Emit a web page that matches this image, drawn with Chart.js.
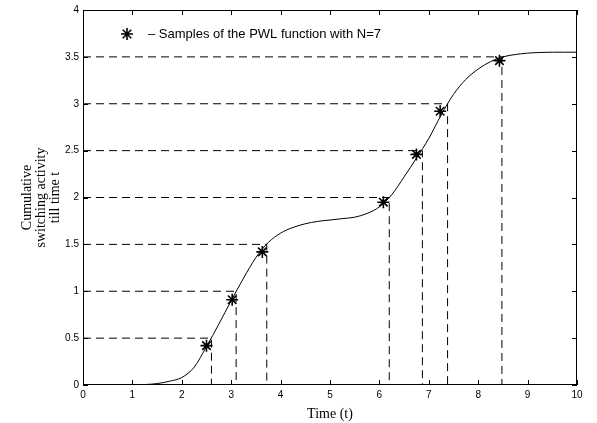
<!DOCTYPE html>
<html>
<head>
<meta charset="utf-8">
<script src="https://cdn.jsdelivr.net/npm/chart.js@4/dist/chart.umd.min.js"></script>
<style>
  html, body { margin: 0; padding: 0; background: #fff; }
  #wrap { width: 597px; height: 423px; }
</style>
</head>
<body>
<div id="wrap"><canvas id="c" width="597" height="423"></canvas></div>
<script>
// cumulative switching activity curve
const curveX = [0, 0.25, 0.5, 0.75, 1, 1.25, 1.5, 1.75, 2, 2.25, 2.5, 2.75, 3, 3.25, 3.5, 3.75, 4, 4.25, 4.5, 4.75, 5, 5.25, 5.5, 5.75, 6, 6.25, 6.5, 6.75, 7, 7.25, 7.5, 7.75, 8, 8.25, 8.5, 8.75, 9, 9.25, 9.5, 9.75, 10];
const curveY = [0, 0, 0, 0, 0, 0.005, 0.015, 0.04, 0.08, 0.19, 0.41, 0.65, 0.9, 1.14, 1.36, 1.52, 1.62, 1.68, 1.72, 1.745, 1.76, 1.775, 1.79, 1.83, 1.9, 2.03, 2.22, 2.42, 2.63, 2.88, 3.1, 3.26, 3.37, 3.45, 3.5, 3.525, 3.54, 3.547, 3.55, 3.55, 3.55];

// levels and the times where the curve reaches them
const levels = [0.5, 1, 1.5, 2, 2.5, 3, 3.5];
const crossTimes = [2.6, 3.1, 3.72, 6.2, 6.87, 7.38, 8.48];

// PWL samples (stars)
const sampleX = [2.5, 3.02, 3.63, 6.08, 6.75, 7.23, 8.43];
const sampleY = [0.42, 0.91, 1.42, 1.95, 2.46, 2.92, 3.46];

const legendText = '\u2013 Samples of the PWL function with N=7';
const xTicks = [0, 1, 2, 3, 4, 5, 6, 7, 8, 9, 10];
const yTicks = [0, 0.5, 1, 1.5, 2, 2.5, 3, 3.5, 4];

const guideSets = levels.map((l, i) => ({
  data: [{ x: 0, y: l }, { x: crossTimes[i], y: l }, { x: crossTimes[i], y: 0 }],
  showLine: true,
  borderColor: '#000',
  borderWidth: 1,
  borderDash: [8, 5],
  pointRadius: 0,
  tension: 0
}));

// box, inward ticks and the legend entry
const boxPlugin = {
  id: 'box',
  afterDatasetsDraw(chart) {
    const { ctx, chartArea: a, scales } = chart;
    ctx.save();
    ctx.strokeStyle = '#000';
    ctx.lineWidth = 1;
    ctx.strokeRect(a.left + 0.5, a.top + 0.5, a.right - a.left - 1, a.bottom - a.top - 1);
    ctx.beginPath();
    const t = 5;
    xTicks.forEach(v => {
      const px = Math.round(scales.x.getPixelForValue(v)) + 0.5;
      ctx.moveTo(px, a.bottom); ctx.lineTo(px, a.bottom - t);
      ctx.moveTo(px, a.top); ctx.lineTo(px, a.top + t);
    });
    yTicks.forEach(v => {
      const py = Math.round(scales.y.getPixelForValue(v)) + 0.5;
      ctx.moveTo(a.left, py); ctx.lineTo(a.left + t, py);
      ctx.moveTo(a.right, py); ctx.lineTo(a.right - t, py);
    });
    ctx.stroke();

    const lx = a.left + 44, ly = a.top + 24;
    ctx.lineWidth = 1.6;
    Chart.helpers.drawPoint(ctx, { pointStyle: 'star', radius: 6, rotation: 0, borderWidth: 1.6 }, lx, ly);
    ctx.fillStyle = '#000';
    ctx.font = '13px "Liberation Sans", Arial, sans-serif';
    ctx.textBaseline = 'middle';
    ctx.fillText(legendText, lx + 21, ly);
    ctx.restore();
  }
};

new Chart(document.getElementById('c'), {
  type: 'scatter',
  data: {
    datasets: [
      {
        data: curveX.map((x, i) => ({ x, y: curveY[i] })),
        showLine: true,
        borderColor: '#000',
        borderWidth: 1,
        pointRadius: 0,
        cubicInterpolationMode: 'monotone'
      },
      ...guideSets,
      {
        data: sampleX.map((x, i) => ({ x, y: sampleY[i] })),
        pointStyle: 'star',
        pointRadius: 6,
        borderColor: '#000',
        backgroundColor: '#000',
        pointBorderWidth: 1.6,
        showLine: false
      }
    ]
  },
  options: {
    responsive: false,
    animation: false,
    events: [],
    layout: { padding: { top: 5, right: 20, left: 0, bottom: 0 } },
    plugins: { legend: { display: false }, tooltip: { enabled: false } },
    scales: {
      x: {
        type: 'linear', min: 0, max: 10,
        afterFit: s => { s.height = 38; },
        grid: { display: false, drawTicks: false },
        border: { display: false },
        ticks: { stepSize: 1, padding: 4, color: '#000', font: { family: '"Liberation Sans", Arial, sans-serif', size: 10 } },
        title: { display: true, text: 'Time (t)', color: '#000', padding: { top: 1, bottom: 0 }, font: { family: '"Liberation Serif", "Times New Roman", serif', size: 14 } }
      },
      y: {
        type: 'linear', min: 0, max: 4,
        afterFit: s => { s.width = 83; },
        grid: { display: false, drawTicks: false },
        border: { display: false },
        ticks: { stepSize: 0.5, padding: 4, color: '#000', callback: v => String(v), font: { family: '"Liberation Sans", Arial, sans-serif', size: 10 } },
        title: { display: true, text: ['Cumulative', 'switching activity', 'till time t'], color: '#000', padding: { top: 20, bottom: 0 }, font: { family: '"Liberation Serif", "Times New Roman", serif', size: 14, lineHeight: 1.0 } }
      }
    }
  },
  plugins: [boxPlugin]
});
</script>
</body>
</html>
